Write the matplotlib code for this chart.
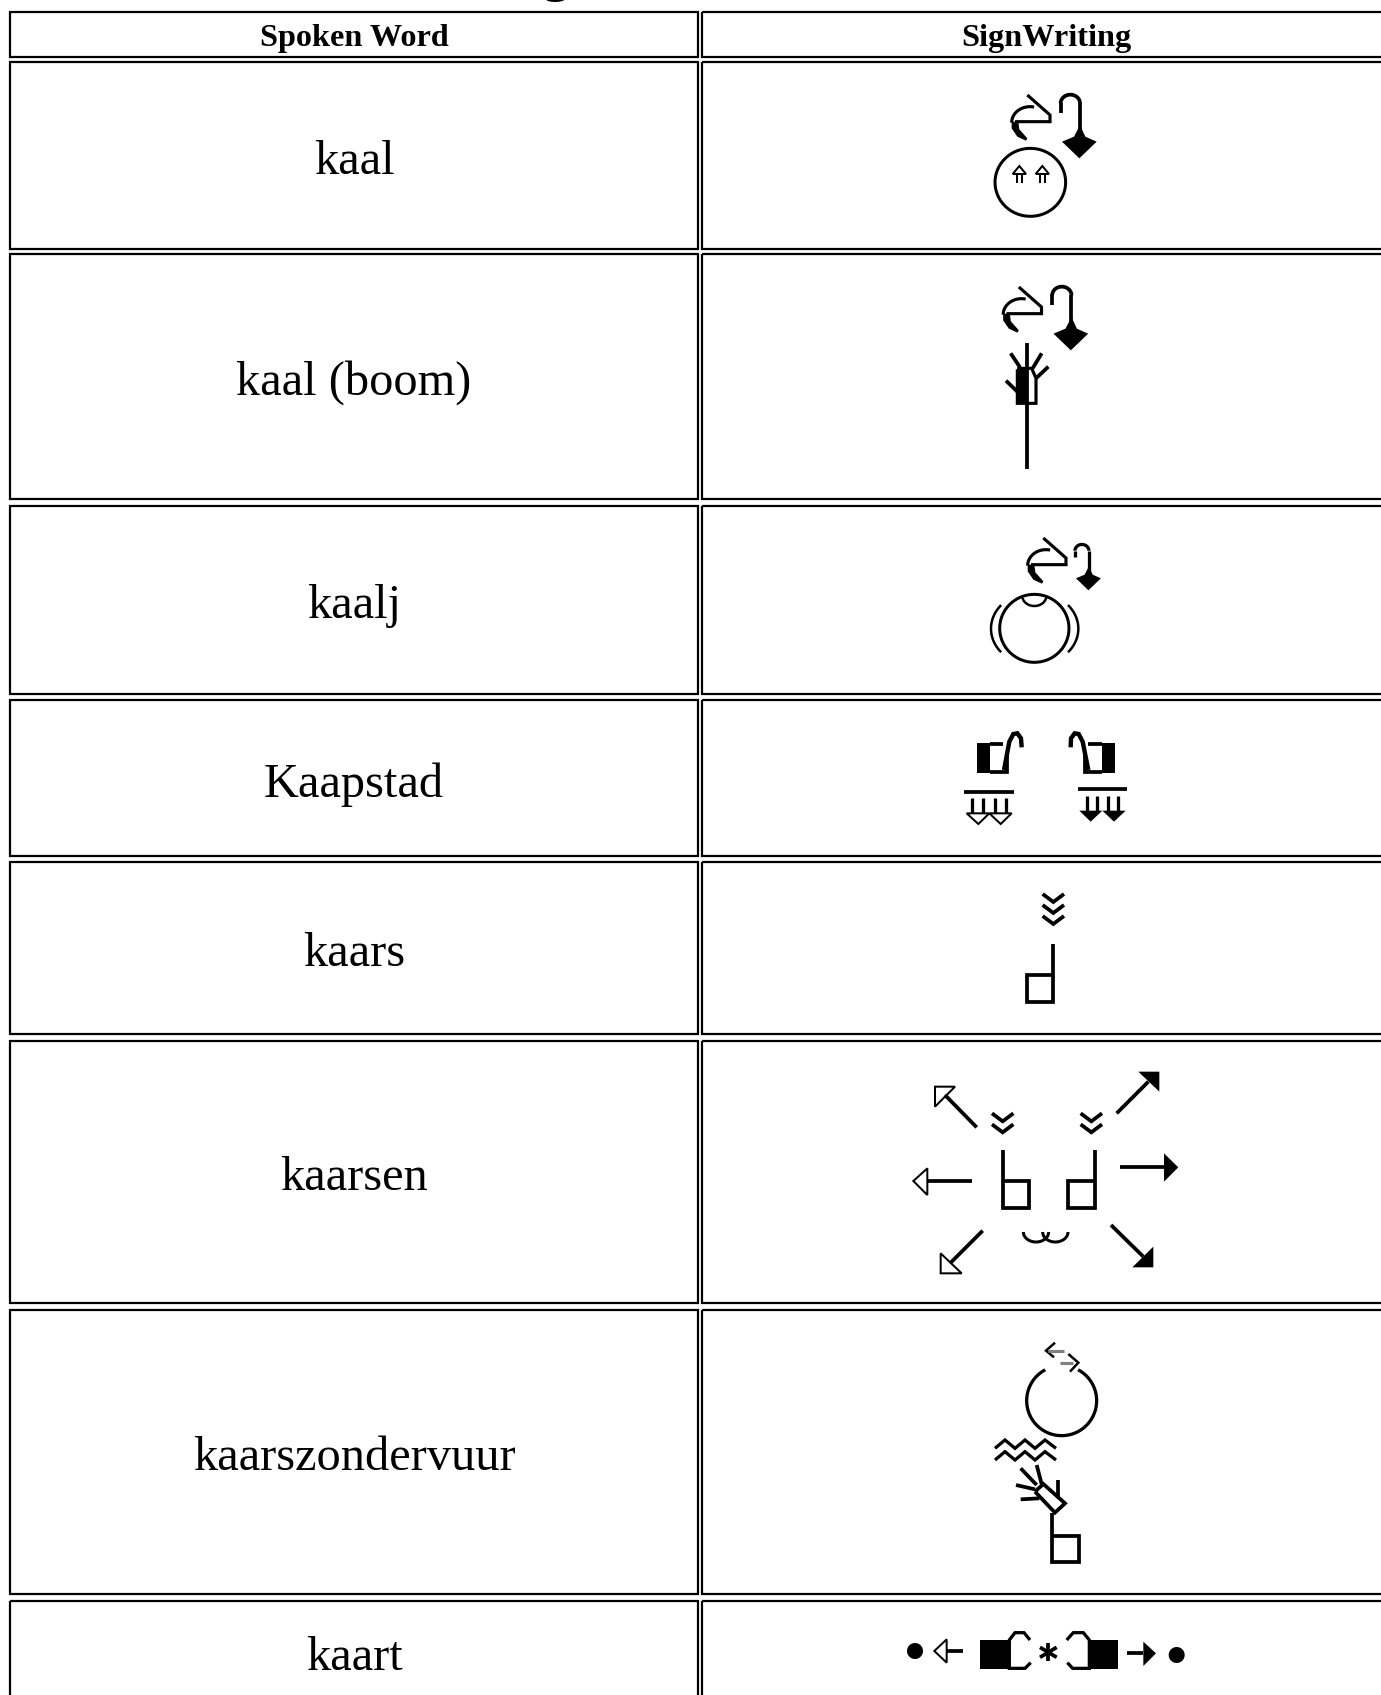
import numpy as np
import matplotlib
matplotlib.use("Agg")
import matplotlib.pyplot as plt
from matplotlib.patches import Rectangle

plt.rcParams['font.family'] = ['Liberation Serif', 'DejaVu Serif']

W, H = 1381, 1695

col_left = [10, 702]
col_right = [698, 1395]
headers = ["Spoken Word", "SignWriting"]
header_top = 11.5
header_bottom = 56.5

words = ["kaal", "kaal (boom)", "kaalj", "Kaapstad", "kaars", "kaarsen",
         "kaarszondervuur", "kaart"]
row_top = [62, 254, 506, 700, 862, 1041, 1310, 1601]
row_bottom = [249, 499, 694, 856, 1034, 1303, 1594, 1720]

fig = plt.figure(figsize=(W / 100, H / 100), dpi=100)
ax = fig.add_axes([0, 0, 1, 1])
ax.set_xlim(0, W)
ax.set_ylim(H, 0)
ax.axis('off')


def conv(pts, ox, oy, s):
    return np.array(pts, dtype=float) * s + [ox, oy]


def stroke(pts, ox, oy, lw=3, s=1/3, color='black', cap='butt'):
    p = conv(pts, ox, oy, s)
    ax.plot(p[:, 0], p[:, 1], color=color, lw=lw * 0.9, solid_capstyle=cap,
            solid_joinstyle='miter')


def shape(pts, ox, oy, fc='black', lw=0, s=1/3):
    p = conv(pts, ox, oy, s)
    ax.fill(p[:, 0], p[:, 1], facecolor=fc, edgecolor='black', lw=lw * 0.9,
            joinstyle='miter')


def ring(cx, cy, rx, ry, a0, a1):
    a = np.radians(np.linspace(a0, a1, 60))
    return np.column_stack([cx + rx * np.cos(a), cy + ry * np.sin(a)])


def arc(cx, cy, rx, ry, a0, a1, ox, oy, lw=3, s=1/3):
    stroke(ring(cx, cy, rx, ry, a0, a1), ox, oy, lw, s)


def dot(cx, cy, r, ox, oy):
    shape(ring(cx, cy, r, r, 0, 360), ox, oy)


def curl(ox, oy, s=1/3):
    stroke([(262, 75), (330, 135), (330, 155), (225, 155)], ox, oy, 2.5, s)
    arc(270, 158, 55, 48, 283, 180, ox, oy, 2.5, s)
    shape([(215, 155), (235, 155), (238, 178), (262, 205), (258, 212),
           (232, 200), (215, 175)], ox, oy, s=s)


def hook(ox, oy, s=1/3, lw=3):
    stroke([(362, 128), (362, 100)], ox, oy, lw, s)
    arc(391, 100, 29, 26, 180, 360, ox, oy, lw, s)
    stroke([(420, 100), (420, 190)], ox, oy, lw, s)
    shape([(366, 215), (402, 200), (420, 165), (436, 200), (470, 215), (418, 265)],
          ox, oy, s=s)


def open_head(x, y, ox, oy, lw=1.6):
    # small double stem arrow pointing up, as on the face of row one
    stroke([(x - 20, y), (x, y - 24), (x + 20, y), (x - 20, y)], ox, oy, lw)
    stroke([(x - 7, y), (x - 7, y + 26)], ox, oy, lw)
    stroke([(x + 7, y), (x + 7, y + 26)], ox, oy, lw)


def chevrons(x, y, n, ox, oy):
    for i in range(n):
        yy = y + i * 33
        stroke([(x - 32, yy), (x, yy + 24), (x + 32, yy)], ox, oy, 3)


def arrow(line, head, ox, oy, black):
    stroke(line, ox, oy, 3)
    shape(head, ox, oy, fc='black' if black else 'white', lw=0 if black else 1.6)


# table cells
for j in range(2):
    ax.add_patch(Rectangle((col_left[j], header_top), col_right[j] - col_left[j],
                           header_bottom - header_top, fc='none', ec='black', lw=1.6))
    for top, bottom in zip(row_top, row_bottom):
        ax.add_patch(Rectangle((col_left[j], top), col_right[j] - col_left[j],
                               bottom - top, fc='none', ec='black', lw=1.6))

ax.text(354, 38.5, headers[0], ha='center', va='center', fontsize=23.2, fontweight='bold')
ax.text(1046, 38.5, headers[1], ha='center', va='center', fontsize=23.2, fontweight='bold')

# what is left of the cut off page title
ax.text(555, -11, "g", ha='center', va='baseline', fontsize=43, clip_on=True)

for word, top, bottom in zip(words, row_top, row_bottom):
    yc = (top + bottom) / 2
    if word == "kaart":
        yc = 1651
    ax.text(354, yc + 6.5, word, ha='center', va='center', fontsize=34.8)

# row 1 kaal
ox, oy = 940, 70
curl(ox, oy)
hook(ox, oy)
arc(271, 337, 106, 102, 0, 360, ox, oy, 2.4)
open_head(238, 312, ox, oy)
open_head(307, 312, ox, oy)

# row 2 kaal (boom)
curl(ox - 8.5, oy + 192)
hook(ox - 8.5, oy + 192)
stroke([(260, 820), (260, 1198)], ox, oy, 3)
shape([(232, 895), (232, 1002), (260, 1002), (260, 895)], ox, oy)
stroke([(232, 898), (232, 1000), (288, 1000), (288, 925), (275, 895), (232, 895)], ox, oy, 2.5)
for f in [[(212, 850), (240, 892)], [(305, 850), (278, 895)],
          [(325, 890), (288, 925)], [(198, 932), (232, 965)]]:
    stroke(f, ox, oy, 3)

# row 3 kaalj
ox, oy = 940, 520
curl(956, 513)
hook(988.1, 526.7, s=0.24, lw=2.6)
arc(283, 325, 104, 102, 0, 360, ox, oy, 2.4)
arc(283, 228, 36, 30, 10, 170, ox, oy, 2)
arc(283, 326, 130, 110, 140, 220, ox, oy, 2)
arc(283, 326, 132, 110, -40, 40, ox, oy, 2)

# row 4 Kaapstad
shape([(110, 670), (150, 670), (150, 758), (110, 758)], ox, oy)
stroke([(150, 672), (190, 672)], ox, oy, 3)
stroke([(150, 756), (200, 756), (200, 700)], ox, oy, 3)
stroke([(192, 750), (208, 665), (220, 642), (232, 640), (243, 655), (245, 682)], ox, oy, 3.5)
stroke([(72, 815), (222, 815)], ox, oy, 3)
for x in [97, 130, 165, 198]:
    stroke([(x, 835), (x, 880)], ox, oy, 2.6)
shape([(80, 880), (115, 912), (148, 880)], ox, oy, fc='white', lw=1.6)
shape([(148, 880), (182, 912), (215, 880)], ox, oy, fc='white', lw=1.6)
shape([(487, 670), (525, 670), (525, 758), (487, 758)], ox, oy)
stroke([(487, 672), (445, 672)], ox, oy, 3)
stroke([(487, 756), (435, 756), (435, 700)], ox, oy, 3)
stroke([(445, 750), (428, 665), (416, 642), (404, 640), (393, 655), (392, 682)], ox, oy, 3.5)
stroke([(413, 808), (562, 808)], ox, oy, 3)
for x in [440, 470, 505, 535]:
    stroke([(x, 828), (x, 875)], ox, oy, 2.6)
shape([(418, 872), (452, 905), (487, 872)], ox, oy)
shape([(487, 872), (522, 905), (557, 872)], ox, oy)

# row 5 kaars
ox, oy = 900, 880
chevrons(460, 42, 3, ox, oy)
stroke([(460, 192), (460, 366), (380, 366), (380, 285), (460, 285)], ox, oy, 3)

# row 6 kaarsen
chevrons(308, 700, 2, ox, oy)
chevrons(574, 700, 2, ox, oy)
stroke([(308, 810), (308, 985), (388, 985), (388, 903), (308, 903)], ox, oy, 3)
stroke([(585, 810), (585, 985), (505, 985), (505, 903), (585, 903)], ox, oy, 3)
arrow([(230, 742), (135, 645)], [(105, 620), (165, 620), (105, 680)], ox, oy, False)
arrow([(650, 700), (745, 605)], [(778, 575), (715, 575), (778, 635)], ox, oy, True)
arrow([(215, 903), (80, 903)], [(40, 903), (82, 865), (82, 945)], ox, oy, False)
arrow([(660, 862), (795, 862)], [(835, 862), (792, 820), (792, 905)], ox, oy, True)
arrow([(248, 1052), (150, 1150)], [(122, 1180), (122, 1120), (185, 1180)], ox, oy, False)
arrow([(633, 1035), (730, 1130)], [(760, 1162), (760, 1100), (697, 1162)], ox, oy, True)
arc(408, 1056, 38, 30, 0, 180, ox, oy, 2.4)
arc(466, 1056, 38, 30, 0, 180, ox, oy, 2.4)

# row 7 kaarszondervuur
ox, oy = 960, 1330
arc(305, 212, 105, 105, -62, 242, ox, oy, 2.6)
stroke([(285, 38), (258, 62), (282, 82)], ox, oy, 2)
stroke([(325, 72), (355, 98), (330, 125)], ox, oy, 2)
stroke([(265, 62), (312, 62)], ox, oy, 2.5, color='#808080')
stroke([(300, 98), (338, 98)], ox, oy, 2.5, color='#808080')
for dy in [0, 35]:
    stroke([(105, 355 + dy), (135, 330 + dy), (165, 355 + dy), (195, 330 + dy),
            (225, 355 + dy), (255, 330 + dy), (288, 355 + dy)], ox, oy, 2.6)
stroke([(225, 485), (250, 462), (315, 520), (285, 548), (225, 485)], ox, oy, 3)
for f in [[(182, 415), (230, 465)], [(230, 405), (245, 462)], [(168, 465), (225, 478)],
          [(182, 508), (238, 505)], [(295, 450), (295, 497)]]:
    stroke(f, ox, oy, 3)
stroke([(275, 548), (275, 697), (357, 697), (357, 618), (275, 618)], ox, oy, 3)

# row 8 kaart
ox, oy = 880, 1590
dot(105, 183, 24, ox, oy)
dot(890, 195, 24, ox, oy)
arrow([(200, 183), (250, 183)], [(163, 183), (200, 148), (200, 218)], ox, oy, False)
shape([(300, 150), (388, 150), (388, 237), (300, 237)], ox, oy)
stroke([(450, 150), (432, 128), (405, 128), (388, 150), (388, 235), (435, 235), (452, 218)],
       ox, oy, 2.6)
shape([(628, 150), (715, 150), (715, 237), (628, 237)], ox, oy)
stroke([(560, 150), (580, 128), (610, 128), (628, 150), (628, 235), (578, 235), (562, 218)],
       ox, oy, 2.6)
for seg in [[(505, 160), (505, 214)], [(480, 172), (530, 202)], [(480, 202), (530, 172)]]:
    stroke(seg, ox, oy, 3)
arrow([(740, 190), (790, 190)], [(828, 190), (790, 155), (790, 228)], ox, oy, True)

fig.savefig("out.png", dpi=100)
